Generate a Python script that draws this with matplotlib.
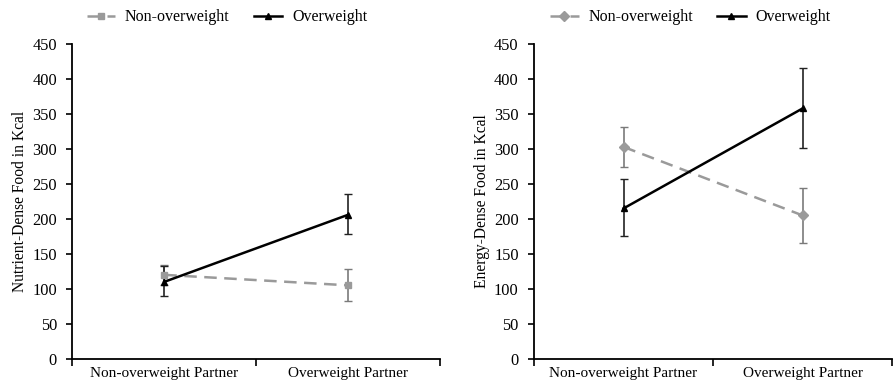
import matplotlib
matplotlib.use("Agg")
import matplotlib.pyplot as plt

plt.rcParams["font.family"] = ["Liberation Serif", "DejaVu Serif"]
plt.rcParams["font.size"] = 11

categories = ["Non-overweight Partner", "Overweight Partner"]
series = ["Non-overweight", "Overweight"]

# Panel A: nutrient-dense food
nutrient_nonow = [120, 105]
nutrient_nonow_lo = [106, 83]
nutrient_nonow_hi = [134, 129]
nutrient_ow = [110, 206]
nutrient_ow_lo = [90, 179]
nutrient_ow_hi = [133, 235]

# Panel B: energy-dense food
energy_nonow = [303, 205]
energy_nonow_lo = [274, 165]
energy_nonow_hi = [332, 244]
energy_ow = [215, 358]
energy_ow_lo = [175, 302]
energy_ow_hi = [257, 416]

GRAY = "#9a9a9a"
GRAY_ERR = "#7a7a7a"

fig = plt.figure(figsize=(8.93, 3.87), dpi=100)
ax1 = fig.add_axes([0.081, 0.073, 0.412, 0.813])
ax2 = fig.add_axes([0.598, 0.073, 0.401, 0.813])


def draw(ax, nonow, nlo, nhi, ow, olo, ohi, gray_marker, ylabel, legend_x):
    x = [0.5, 1.5]
    nerr = [[v - l for v, l in zip(nonow, nlo)], [h - v for v, h in zip(nonow, nhi)]]
    oerr = [[v - l for v, l in zip(ow, olo)], [h - v for v, h in zip(ow, ohi)]]
    ax.errorbar(x, nonow, yerr=nerr, fmt="none", ecolor=GRAY_ERR, elinewidth=1.2,
                capsize=3, capthick=1.0, zorder=2)
    ax.errorbar(x, ow, yerr=oerr, fmt="none", ecolor="#222222", elinewidth=1.2,
                capsize=3, capthick=1.0, zorder=2)
    h1, = ax.plot(x, nonow, color=GRAY, lw=1.8, ls=(0, (5, 3)), marker=gray_marker,
                  ms=5, mfc=GRAY, mec=GRAY, label=series[0], zorder=3)
    h2, = ax.plot(x, ow, color="black", lw=1.8, marker="^", ms=5,
                  label=series[1], zorder=4)
    ax.set_xlim(0, 2)
    ax.set_ylim(0, 450)
    ax.set_yticks(range(0, 451, 50))
    ax.set_xticks([0, 1, 2])
    ax.set_xticklabels([])
    ax.set_xticks(x, minor=True)
    ax.set_xticklabels(categories, minor=True, fontsize=11)
    ax.tick_params(axis="x", which="minor", length=0, pad=6)
    ax.tick_params(axis="x", which="major", length=5, direction="out", width=1.2)
    ax.tick_params(axis="y", length=4, direction="out", width=1.2, pad=7,
                   labelsize=11.8)
    for side in ("top", "right"):
        ax.spines[side].set_visible(False)
    for side in ("left", "bottom"):
        ax.spines[side].set_linewidth(1.3)
    ax.set_ylabel(ylabel, labelpad=3, fontsize=11.2)
    fig.legend(handles=[h1, h2], loc="center", bbox_to_anchor=(legend_x, 0.955),
               ncol=2, frameon=False, handlelength=1.8, columnspacing=1.5,
               handletextpad=0.6, fontsize=11.5)


draw(ax1, nutrient_nonow, nutrient_nonow_lo, nutrient_nonow_hi,
     nutrient_ow, nutrient_ow_lo, nutrient_ow_hi, "s",
     "Nutrient-Dense Food in Kcal", 0.254)
draw(ax2, energy_nonow, energy_nonow_lo, energy_nonow_hi,
     energy_ow, energy_ow_lo, energy_ow_hi, "D",
     "Energy-Dense Food in Kcal", 0.773)

fig.savefig("out.png", dpi=100)
